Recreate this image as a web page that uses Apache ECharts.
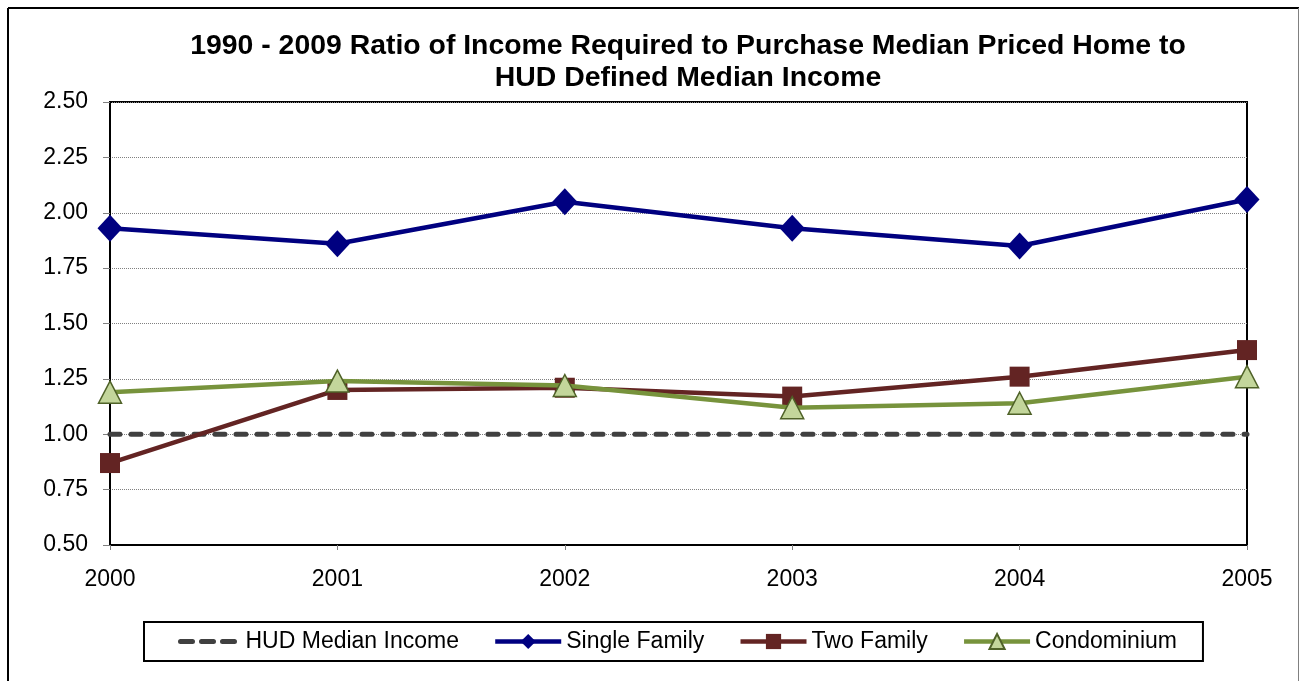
<!DOCTYPE html>
<html>
<head>
<meta charset="utf-8">
<script src="https://cdn.jsdelivr.net/npm/echarts@6/dist/echarts.min.js"></script>
<style>
  html, body { margin: 0; padding: 0; background: #ffffff; }
  #chart { width: 1301px; height: 681px; }
</style>
</head>
<body>
<div id="chart"></div>
<script>
// Years on the category axis
const years = ['2000', '2001', '2002', '2003', '2004', '2005'];

// Ratio of income required to purchase a median priced home to HUD median income
const hudMedianIncome = [1.00, 1.00, 1.00, 1.00, 1.00, 1.00];
const singleFamily    = [1.93, 1.86, 2.05, 1.93, 1.85, 2.06];
const twoFamily       = [0.87, 1.20, 1.21, 1.17, 1.26, 1.38];
const condominium     = [1.19, 1.24, 1.22, 1.12, 1.14, 1.26];

const FONT = '"Liberation Sans", Arial, Helvetica, sans-serif';

const chart = echarts.init(document.getElementById('chart'), null, { renderer: 'canvas' });

chart.setOption({
  backgroundColor: '#ffffff',
  animation: false,
  title: {
    text: '1990 - 2009 Ratio of Income Required to Purchase Median Priced Home to\nHUD Defined Median Income',
    left: 683,
    top: 25,
    textAlign: 'center',
    textStyle: {
      fontFamily: FONT,
      fontSize: 28.4,
      fontWeight: 'bold',
      color: '#000000',
      lineHeight: 32
    }
  },
  graphic: [
    // outer frame of the chart area
    { type: 'line', shape: { x1: 8, y1: 8, x2: 1299, y2: 8 }, style: { stroke: '#000000', lineWidth: 2 }, z: 100 },
    { type: 'line', shape: { x1: 8, y1: 8, x2: 8, y2: 690 }, style: { stroke: '#000000', lineWidth: 2 }, z: 100 },
    { type: 'line', shape: { x1: 1298.5, y1: 8, x2: 1298.5, y2: 690 }, style: { stroke: '#808080', lineWidth: 1 }, z: 100 }
  ],
  legend: {
    left: 144,
    top: 622,
    orient: 'horizontal',
    padding: [8, 26, 8, 28],
    itemGap: 34,
    itemWidth: 66,
    itemHeight: 19,
    borderColor: '#000000',
    borderWidth: 2,
    lineStyle: { width: 4.5 },
    textStyle: { fontFamily: FONT, fontSize: 23, color: '#000000' },
    data: [
      {
        name: 'HUD Median Income',
        itemStyle: { opacity: 0 },
        lineStyle: { width: 5, type: [12, 9], dashOffset: 15, cap: 'round', color: '#404040' }
      },
      'Single Family',
      'Two Family',
      'Condominium'
    ]
  },
  grid: {
    left: 110,
    right: 54,
    top: 102,
    bottom: 136,
    show: true,
    borderColor: '#000000',
    borderWidth: 2,
    containLabel: false
  },
  xAxis: {
    type: 'category',
    data: years,
    boundaryGap: false,
    axisLine: { show: true, lineStyle: { color: '#000000', width: 2 } },
    axisTick: { show: true, alignWithLabel: true, length: 5, lineStyle: { color: '#808080', width: 1 } },
    axisLabel: { fontFamily: FONT, fontSize: 23, color: '#000000', margin: 23 },
    splitLine: { show: false }
  },
  yAxis: {
    type: 'value',
    min: 0.5,
    max: 2.5,
    interval: 0.25,
    axisLine: { show: true, lineStyle: { color: '#000000', width: 2 } },
    axisTick: { show: true, length: 7, lineStyle: { color: '#808080', width: 1 } },
    axisLabel: {
      fontFamily: FONT, fontSize: 23, color: '#000000', margin: 22,
      formatter: v => v.toFixed(2)
    },
    splitLine: { show: true, lineStyle: { color: '#808080', width: 1, type: [1, 1] } }
  },
  series: [
    {
      name: 'HUD Median Income',
      type: 'line',
      data: hudMedianIncome,
      symbol: 'none',
      color: '#404040',
      lineStyle: { color: '#404040', width: 5, type: [10, 11], cap: 'round' },
      z: 2
    },
    {
      name: 'Single Family',
      type: 'line',
      data: singleFamily,
      symbol: 'diamond',
      symbolSize: [25, 27],
      color: '#000080',
      itemStyle: { color: '#000080' },
      lineStyle: { color: '#000080', width: 4.5 },
      z: 3
    },
    {
      name: 'Two Family',
      type: 'line',
      data: twoFamily,
      symbol: 'rect',
      symbolSize: 20,
      color: '#632423',
      itemStyle: { color: '#632423' },
      lineStyle: { color: '#632423', width: 4.5 },
      z: 4
    },
    {
      name: 'Condominium',
      type: 'line',
      data: condominium,
      symbol: 'triangle',
      symbolSize: [23, 22],
      color: '#77933C',
      itemStyle: { color: '#C3D69B', borderColor: '#4F6228', borderWidth: 1.5 },
      lineStyle: { color: '#77933C', width: 4.5 },
      z: 5
    }
  ]
});
</script>
</body>
</html>
